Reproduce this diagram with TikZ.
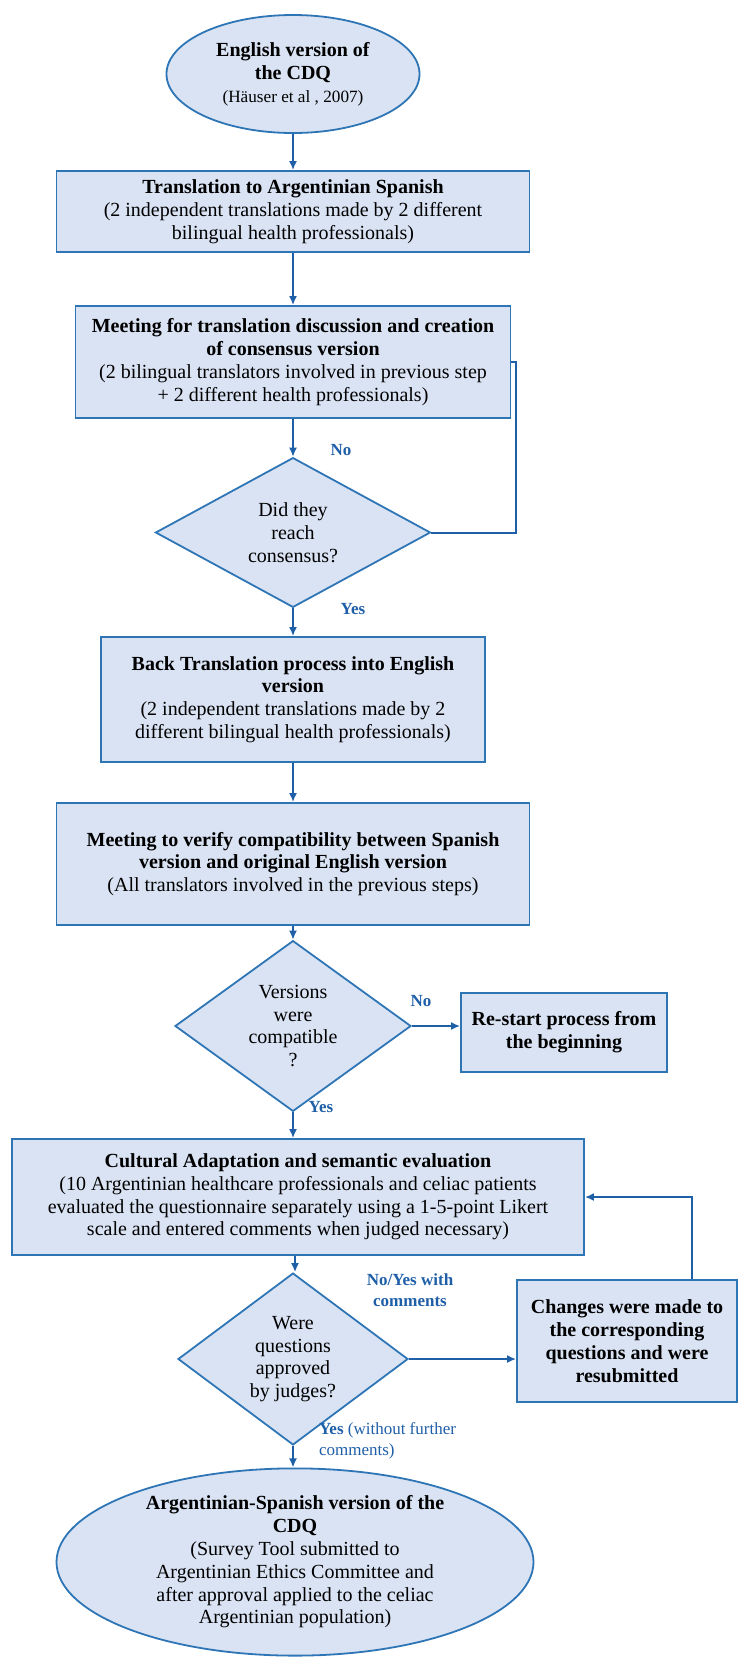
\documentclass[tikz,border=0pt]{standalone}
\usepackage{fontspec}
\setmainfont{Liberation Serif}
\usetikzlibrary{shapes.geometric,arrows.meta}

\definecolor{boxfill}{RGB}{218,227,243}
\definecolor{boxline}{RGB}{46,117,182}
\definecolor{flowblue}{RGB}{31,95,168}

\begin{document}
\begin{tikzpicture}[x=0.5pt, y=-0.5pt,
    block/.style={draw=boxline, fill=boxfill, line width=0.9pt, align=center,
        font=\fontsize{10}{11.4}\selectfont, inner sep=2pt},
    decision/.style={diamond, draw=boxline, fill=boxfill, line width=0.9pt, align=center,
        font=\fontsize{10}{11.4}\selectfont, inner sep=0pt},
    terminal/.style={ellipse, draw=boxline, fill=boxfill, line width=0.9pt, align=center,
        font=\fontsize{10}{11.4}\selectfont, inner sep=0pt},
    flow/.style={draw=flowblue, line width=1pt, -{Latex[length=4.5pt,width=4pt]}},
    loopline/.style={draw=flowblue, line width=1pt},
    answer/.style={text=flowblue, font=\fontsize{8.5}{10.3}\selectfont\bfseries, align=center}]

    \useasboundingbox (0,0) rectangle (748,1666);

    % Source questionnaire
    \node[terminal, minimum width=126.5pt, minimum height=59pt] (english) at (293,74)
        {\textbf{English version of}\\\textbf{the CDQ}\\{\fontsize{8.6}{10.5}\selectfont (Häuser et al , 2007)}};

    % Forward translation
    \node[block, minimum width=236.5pt, minimum height=40.5pt] (transl) at (293,211.5)
        {\textbf{Translation to Argentinian Spanish}\\(2 independent translations made by 2 different\\bilingual health professionals)};

    \node[block, minimum width=217.5pt, minimum height=56pt] (consmeet) at (293,362)
        {\textbf{Meeting for translation discussion and creation}\\\textbf{of consensus version}\\(2 bilingual translators involved in previous step\\+ 2 different health professionals)};

    \node[decision, minimum width=137.5pt, minimum height=66.5pt] (consq) at (293,532.5)
        {Did they\\reach\\consensus?};

    % Back translation
    \node[block, minimum width=192pt, minimum height=62.5pt] (backtr) at (293,699.5)
        {\textbf{Back Translation process into English}\\\textbf{version}\\(2 independent translations made by 2\\different bilingual health professionals)};

    \node[block, minimum width=236.5pt, minimum height=61pt] (verify) at (293,864)
        {\textbf{Meeting to verify compatibility between Spanish}\\\textbf{version and original English version}\\(All translators involved in the previous steps)};

    \node[decision, minimum width=118pt, minimum height=68pt] (compq) at (293,1026)
        {Versions\\were\\compatible\\?};

    \node[block, minimum width=103pt, minimum height=39.5pt] (restart) at (564,1032.5)
        {\textbf{Re-start process from}\\\textbf{the beginning}};

    % Cultural adaptation
    \node[block, minimum width=286pt, minimum height=58pt] (cultural) at (298,1197)
        {\textbf{Cultural Adaptation and semantic evaluation}\\(10 Argentinian healthcare professionals and celiac patients\\evaluated the questionnaire separately using a 1-5-point Likert\\scale and entered comments when judged necessary)};

    \node[decision, minimum width=115pt, minimum height=68pt] (judgeq) at (293,1359)
        {Were\\questions\\approved\\by judges?};

    \node[block, minimum width=110pt, minimum height=61pt] (changes) at (627,1341)
        {\textbf{Changes were made to}\\\textbf{the corresponding}\\\textbf{questions and were}\\\textbf{resubmitted}};

    % Final version
    \node[terminal, minimum width=238.5pt, minimum height=93pt] (final) at (295,1562)
        {\textbf{Argentinian-Spanish version of the}\\\textbf{CDQ}\\(Survey Tool submitted to\\Argentinian Ethics Committee and\\after approval applied to the celiac\\Argentinian population)};

    % Connectors
    \draw[flow] (english.south) -- (english.south |- transl.north);
    \draw[flow] (transl.south) -- (transl.south |- consmeet.north);
    \draw[flow] (consmeet.south) -- (consmeet.south |- consq.north);
    \draw[loopline] (consq.east) -| ([xshift=2.5pt]consmeet.east) -- (consmeet.east);
    \draw[flow] (consq.south) -- (consq.south |- backtr.north);
    \draw[flow] (backtr.south) -- (backtr.south |- verify.north);
    \draw[flow] (verify.south) -- (verify.south |- compq.north);
    \draw[flow] (compq.east) -- (compq.east -| restart.west);
    \draw[flow] (compq.south) -- (compq.south |- cultural.north);
    \draw[flow] ([xshift=-1.5pt]cultural.south) -- ([xshift=-1.5pt]cultural.south |- judgeq.north);
    \draw[flow] (judgeq.east) -- (judgeq.east -| changes.west);
    \draw[flow] ([xshift=32.5pt]changes.north) |- (cultural.east);
    \draw[flow] (judgeq.south) -- (judgeq.south |- final.north);

    % Answer labels
    \node[answer] (no1) at (341,450) {No};
    \node[answer] (yes1) at (353,609) {Yes};
    \node[answer] (no2) at (421,1001) {No};
    \node[answer] (yes2) at (321,1107) {Yes};
    \node[answer] (noyes) at (410,1290) {No/Yes with\\comments};
    \node[answer, anchor=west, align=left, font=\fontsize{8.5}{10.3}\selectfont] (yes3) at (312,1441)
        {\textbf{Yes} (without further\\comments)};

\end{tikzpicture}
\end{document}
